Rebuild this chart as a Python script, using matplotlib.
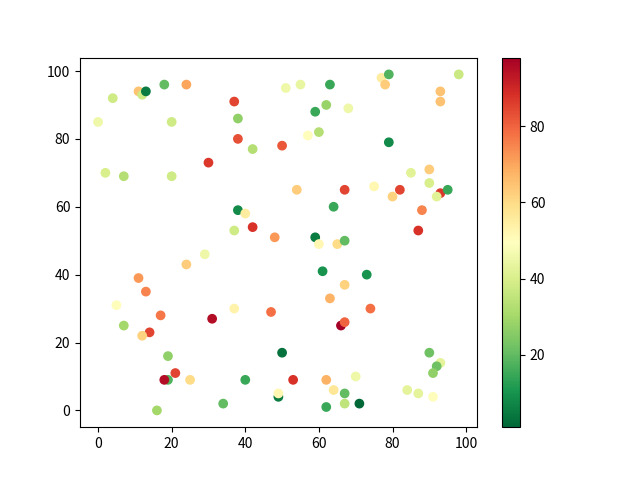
import matplotlib
matplotlib.use("Agg")
import matplotlib.pyplot as plt

plt.rcParams['font.family'] = ['Noto Sans CJK SC', 'DejaVu Sans']
plt.rcParams['axes.unicode_minus'] = False

x = [0, 2, 4, 7, 11, 12, 13, 18, 24, 20,
     20, 37, 38, 38, 42, 30, 50, 38, 40, 37,
     42, 48, 51, 55, 63, 77, 79, 78, 98, 93,
     93, 59, 62, 68, 57, 60, 79, 85, 90, 90,
     93, 95, 92, 75, 82, 80, 54, 67, 64, 88,
     87, 59, 60, 65, 67, 61, 73, 67, 63, 74,
     47, 66, 67, 50, 90, 93, 92, 91, 53, 62,
     70, 64, 67, 84, 87, 91, 49, 49, 62, 67,
     71, 29, 24, 11, 13, 5, 17, 31, 37, 7,
     14, 12, 19, 21, 19, 18, 25, 40, 34, 16]
y = [85, 70, 92, 69, 94, 93, 94, 96, 96, 85,
     69, 91, 86, 80, 77, 73, 78, 59, 58, 53,
     54, 51, 95, 96, 96, 98, 99, 96, 99, 94,
     91, 88, 90, 89, 81, 82, 79, 70, 71, 67,
     64, 65, 63, 66, 65, 63, 65, 65, 60, 59,
     53, 51, 49, 49, 50, 41, 40, 37, 33, 30,
     29, 25, 26, 17, 17, 14, 13, 11, 9, 9,
     10, 6, 5, 6, 5, 4, 4, 5, 1, 2,
     2, 46, 43, 39, 35, 31, 28, 27, 30, 25,
     23, 22, 16, 11, 9, 9, 9, 9, 2, 0]
values = [45, 40, 38, 33, 65, 38, 5, 20, 70, 38,
          38, 85, 27, 83, 33, 87, 82, 8, 55, 38,
          88, 72, 45, 44, 15, 55, 18, 63, 37, 65,
          65, 15, 28, 45, 50, 33, 8, 42, 63, 40,
          87, 15, 42, 52, 85, 62, 63, 85, 15, 75,
          88, 5, 52, 60, 20, 10, 10, 62, 68, 78,
          78, 98, 80, 3, 22, 43, 22, 27, 88, 68,
          45, 57, 20, 43, 43, 50, 5, 52, 15, 35,
          1, 45, 63, 72, 75, 50, 77, 95, 53, 30,
          85, 62, 27, 85, 18, 95, 60, 15, 20, 30]

fig, ax = plt.subplots(figsize=(6.4, 4.8), dpi=100)
sc = ax.scatter(x, y, c=values, cmap='RdYlGn_r')
fig.colorbar(sc, ax=ax)
fig.savefig('out.png')
